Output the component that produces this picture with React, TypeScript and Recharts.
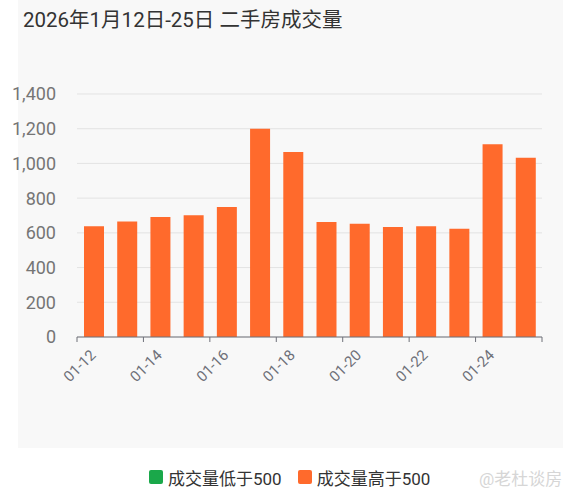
import React from "react";
import { BarChart, Bar, XAxis, YAxis, CartesianGrid, Legend } from "recharts";

const TITLE = "2026年1月12日-25日 二手房成交量";
const DATES = ["01-12", "01-13", "01-14", "01-15", "01-16", "01-17", "01-18", "01-19", "01-20", "01-21", "01-22", "01-23", "01-24", "01-25"];
const VOLUMES = [638, 666, 691, 702, 749, 1200, 1066, 662, 653, 634, 638, 624, 1110, 1033];
const Y_TICKS = [0, 200, 400, 600, 800, 1000, 1200, 1400];
const THRESHOLD = 500;
const LOW_NAME = "成交量低于500";
const HIGH_NAME = "成交量高于500";
const WATERMARK = "@老杜谈房";

const LOW_COLOR = "#1AA84A";
const HIGH_COLOR = "#FF6A2C";
const FONT = "Roboto, 'Noto Sans CJK SC', sans-serif";

const CHART_W = 582;
const CHART_H = 490;
const MARGIN = { top: 94, right: 40, bottom: 0, left: 0 };
const Y_AXIS_W = 77;
const LEGEND_H = 26;
const X_AXIS_H = CHART_H - MARGIN.top - MARGIN.bottom - LEGEND_H - 243;
const BAND = (CHART_W - MARGIN.left - MARGIN.right - Y_AXIS_W) / DATES.length;

const data = DATES.map((d, i) => ({
  date: d,
  low: VOLUMES[i] < THRESHOLD ? VOLUMES[i] : null,
  high: VOLUMES[i] >= THRESHOLD ? VOLUMES[i] : null,
}));

const XTick = (props: any) => {
  const { x, y, payload } = props;
  const left = x - BAND / 2;
  const isLastShown = payload.index === DATES.length - 2;
  const tx = x + 3;
  const ty = y + 19;
  return (
    <g>
      <line x1={left} y1={y} x2={left} y2={y + 5} stroke="#6E7079" strokeWidth={1} />
      {isLastShown && (
        <line x1={x + BAND * 1.5} y1={y} x2={x + BAND * 1.5} y2={y + 5} stroke="#6E7079" strokeWidth={1} />
      )}
      <text
        x={tx}
        y={ty}
        transform={`rotate(-45, ${tx}, ${ty})`}
        textAnchor="end"
        fontSize={15}
        fill="#6E7079"
        fontFamily={FONT}
      >
        {payload.value}
      </text>
    </g>
  );
};

const LegendContent = () => (
  <div
    style={{
      height: LEGEND_H,
      display: "flex",
      alignItems: "center",
      fontFamily: FONT,
      fontSize: 17,
      color: "#333",
      paddingLeft: 149,
      boxSizing: "border-box",
    }}
  >
    {[
      { name: LOW_NAME, color: LOW_COLOR },
      { name: HIGH_NAME, color: HIGH_COLOR },
    ].map((it, i) => (
      <span key={it.name} style={{ display: "flex", alignItems: "center", marginRight: i === 0 ? 16 : 0 }}>
        <span
          style={{
            width: 14,
            height: 14,
            borderRadius: 2,
            background: it.color,
            display: "inline-block",
            marginRight: 5,
          }}
        />
        {it.name}
      </span>
    ))}
  </div>
);

export default function App() {
  return (
    <div
      style={{
        position: "absolute",
        left: 0,
        top: 0,
        width: CHART_W,
        height: CHART_H,
        background: "#ffffff",
        overflow: "hidden",
      }}
    >
      <div
        style={{
          position: "absolute",
          left: 18,
          top: 0,
          width: 545,
          height: 448,
          background: "#F8F8F8",
        }}
      />
      <div
        style={{
          position: "absolute",
          left: 23,
          top: 3,
          fontFamily: FONT,
          fontSize: 20.5,
          color: "#333",
          whiteSpace: "nowrap",
        }}
      >
        {TITLE}
      </div>
      <div
        style={{
          position: "absolute",
          left: 479,
          top: 465,
          fontFamily: FONT,
          fontSize: 17,
          color: "#D6D6D6",
          whiteSpace: "nowrap",
        }}
      >
        {WATERMARK}
      </div>
      <div style={{ position: "absolute", left: 0, top: 0 }}>
        <BarChart width={CHART_W} height={CHART_H} data={data} margin={MARGIN}>
          <CartesianGrid horizontal vertical={false} stroke="#E3E3E3" />
          <XAxis
            dataKey="date"
            interval={1}
            height={X_AXIS_H}
            tickLine={false}
            tickSize={0}
            tickMargin={0}
            axisLine={{ stroke: "#6E7079" }}
            tick={<XTick />}
          />
          <YAxis
            width={Y_AXIS_W}
            domain={[0, 1400]}
            ticks={Y_TICKS}
            axisLine={false}
            tickLine={false}
            tickMargin={15}
            tickFormatter={(v: number) => v.toLocaleString("en-US")}
            tick={{ fontSize: 18, fill: "#757575", fontFamily: FONT }}
          />
          <Legend verticalAlign="bottom" height={LEGEND_H} content={<LegendContent />} />
          <Bar dataKey="low" name={LOW_NAME} stackId="v" fill={LOW_COLOR} barSize={20} isAnimationActive={false} />
          <Bar dataKey="high" name={HIGH_NAME} stackId="v" fill={HIGH_COLOR} barSize={20} isAnimationActive={false} />
        </BarChart>
      </div>
    </div>
  );
}
